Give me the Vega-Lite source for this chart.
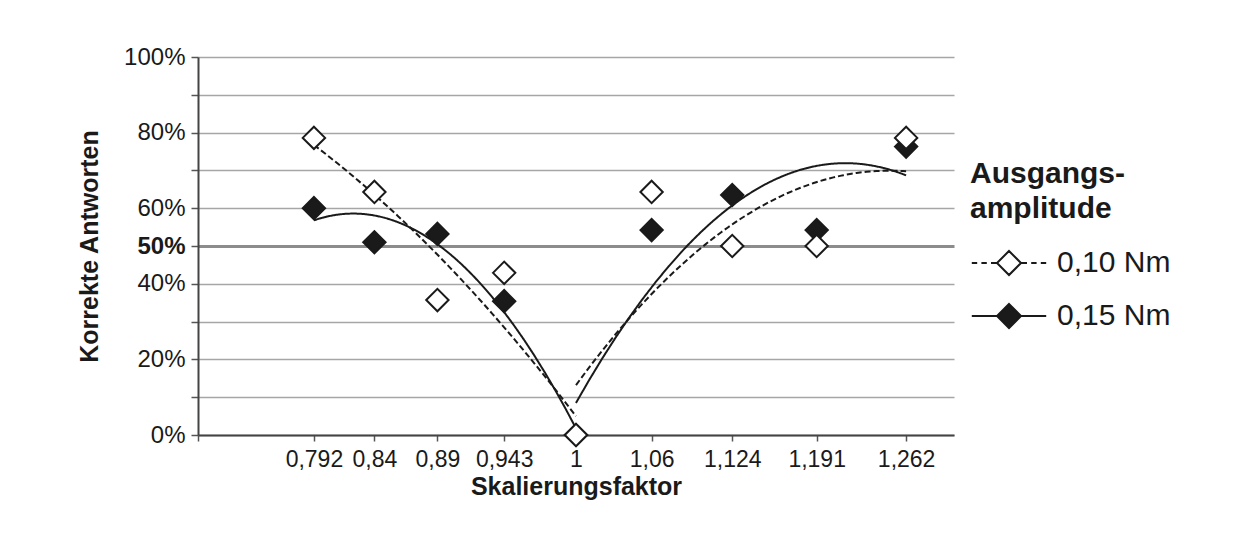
{
  "$schema": "https://vega.github.io/schema/vega-lite/v6.json",
  "width": 756,
  "height": 378,
  "autosize": {"type": "none"},
  "padding": {"left": 198, "top": 57, "right": 301, "bottom": 99},
  "background": "white",
  "config": {
    "view": {"stroke": null},
    "font": "Liberation Sans",
    "axis": {"labelColor": "#1a1a1a", "titleColor": "#1a1a1a"}
  },
  "data": {
    "values": [
      {"x": 0.792, "y": 0.600, "series": "0,15 Nm"},
      {"x": 0.84, "y": 0.510, "series": "0,15 Nm"},
      {"x": 0.89, "y": 0.532, "series": "0,15 Nm"},
      {"x": 0.943, "y": 0.354, "series": "0,15 Nm"},
      {"x": 1, "y": 0.0, "series": "0,15 Nm"},
      {"x": 1.06, "y": 0.542, "series": "0,15 Nm"},
      {"x": 1.124, "y": 0.635, "series": "0,15 Nm"},
      {"x": 1.191, "y": 0.542, "series": "0,15 Nm"},
      {"x": 1.262, "y": 0.763, "series": "0,15 Nm"},
      {"x": 0.792, "y": 0.786, "series": "0,10 Nm"},
      {"x": 0.84, "y": 0.643, "series": "0,10 Nm"},
      {"x": 0.89, "y": 0.357, "series": "0,10 Nm"},
      {"x": 0.943, "y": 0.429, "series": "0,10 Nm"},
      {"x": 1, "y": 0.0, "series": "0,10 Nm"},
      {"x": 1.06, "y": 0.643, "series": "0,10 Nm"},
      {"x": 1.124, "y": 0.5, "series": "0,10 Nm"},
      {"x": 1.191, "y": 0.5, "series": "0,10 Nm"},
      {"x": 1.262, "y": 0.786, "series": "0,10 Nm"}
    ]
  },
  "encoding": {
    "x": {
      "field": "x", "type": "quantitative",
      "scale": {"domain": [0.7, 1.3], "zero": false, "nice": false},
      "axis": {
        "values": [0.7, 0.792, 0.84, 0.89, 0.943, 1, 1.06, 1.124, 1.191, 1.262],
        "labelExpr": "datum.value < 0.75 ? '' : replace(toString(datum.value), '.', ',')",
        "grid": false,
        "domainColor": "#444444", "domainWidth": 2,
        "tickColor": "#555555", "tickWidth": 1.5, "tickSize": 6,
        "labelFontSize": 23, "labelPadding": 7,
        "title": "Skalierungsfaktor", "titleFontSize": 25, "titleFontWeight": "bold", "titlePadding": 3
      }
    },
    "y": {
      "field": "y", "type": "quantitative",
      "scale": {"domain": [0, 1], "nice": false},
      "axis": {
        "values": [0, 0.1, 0.2, 0.3, 0.4, 0.5, 0.6, 0.7, 0.8, 0.9, 1],
        "labelExpr": "indexof([0,20,40,50,60,80,100], round(datum.value*100)) >= 0 ? round(datum.value*100) + '%' : ''",
        "labelFontWeight": {"condition": {"test": "round(datum.value*100) == 50", "value": "bold"}, "value": "normal"},
        "gridColor": {"condition": {"test": "round(datum.value*100) == 50", "value": "#8c8c8c"}, "value": "#a6a6a6"},
        "gridWidth": {"condition": {"test": "round(datum.value*100) == 50", "value": 3}, "value": 1.5},
        "domainColor": "#444444", "domainWidth": 2,
        "tickColor": "#555555", "tickWidth": 1.5, "tickSize": 7,
        "labelFontSize": 24, "labelPadding": 6,
        "title": "Korrekte Antworten", "titleFontSize": 25, "titleFontWeight": "bold", "titlePadding": 21
      }
    }
  },
  "layer": [
    {
      "transform": [
        {"filter": "datum.x <= 1"},
        {"regression": "y", "on": "x", "groupby": ["series"], "method": "poly", "order": 2, "extent": [0.792, 1]}
      ],
      "mark": {"type": "line", "color": "#1a1a1a", "strokeWidth": 2},
      "encoding": {
        "detail": {"field": "series", "type": "nominal"},
        "strokeDash": {"condition": {"test": "datum.series === '0,10 Nm'", "value": [6, 3]}, "value": [1, 0]}
      }
    },
    {
      "transform": [
        {"filter": "datum.x >= 1"},
        {"regression": "y", "on": "x", "groupby": ["series"], "method": "poly", "order": 2, "extent": [1, 1.262]}
      ],
      "mark": {"type": "line", "color": "#1a1a1a", "strokeWidth": 2},
      "encoding": {
        "detail": {"field": "series", "type": "nominal"},
        "strokeDash": {"condition": {"test": "datum.series === '0,10 Nm'", "value": [6, 3]}, "value": [1, 0]}
      }
    },
    {
      "transform": [{"filter": "false"}],
      "mark": {"type": "point", "filled": true, "size": 500, "stroke": "#1a1a1a", "strokeWidth": 2, "opacity": 1},
      "encoding": {
        "shape": {
          "field": "series", "type": "nominal",
          "scale": {
            "domain": ["0,10 Nm", "0,15 Nm"],
            "range": [
              "M-3.1,0H-2.65M-2.3,0H-1.85M-1.5,0H-1.05M1.05,0H1.5M1.85,0H2.3M2.65,0H3.1M0,-1L1,0L0,1L-1,0Z",
              "M-3.1,0H-1M1,0H3.1M0,-1L1,0L0,1L-1,0Z"
            ]
          },
          "legend": {
            "orient": "none", "legendX": 772, "legendY": 102,
            "title": ["Ausgangs-", "amplitude"],
            "titleFontSize": 30, "titleFontWeight": "bold", "titleColor": "#1a1a1a", "titleLineHeight": 35, "titlePadding": 24,
            "labelFontSize": 30, "labelColor": "#1a1a1a", "labelOffset": 33,
            "symbolSize": 576, "symbolOffset": 24, "symbolStrokeWidth": 2, "symbolOpacity": 1,
            "rowPadding": 21, "padding": 0,
            "encode": {"symbols": {"stroke": {"value": "#1a1a1a"}, "strokeWidth": {"value": 2}}}
          }
        },
        "fill": {
          "field": "series", "type": "nominal",
          "scale": {"domain": ["0,10 Nm", "0,15 Nm"], "range": ["#ffffff", "#1a1a1a"]},
          "legend": {
            "orient": "none", "legendX": 772, "legendY": 102,
            "title": ["Ausgangs-", "amplitude"],
            "titleFontSize": 30, "titleFontWeight": "bold", "titleColor": "#1a1a1a", "titleLineHeight": 35, "titlePadding": 24,
            "labelFontSize": 30, "labelColor": "#1a1a1a", "labelOffset": 33,
            "symbolSize": 576, "symbolOffset": 24, "symbolStrokeWidth": 2, "symbolOpacity": 1,
            "rowPadding": 21, "padding": 0,
            "encode": {"symbols": {"stroke": {"value": "#1a1a1a"}, "strokeWidth": {"value": 2}}}
          }
        }
      }
    },
    {
      "mark": {"type": "point", "shape": "diamond", "filled": true, "size": 500, "stroke": "#1a1a1a", "strokeWidth": 2, "opacity": 1},
      "encoding": {
        "fill": {
          "field": "series", "type": "nominal",
          "scale": {"domain": ["0,10 Nm", "0,15 Nm"], "range": ["#ffffff", "#1a1a1a"]},
          "legend": {
            "orient": "none", "legendX": 772, "legendY": 102,
            "title": ["Ausgangs-", "amplitude"],
            "titleFontSize": 30, "titleFontWeight": "bold", "titleColor": "#1a1a1a", "titleLineHeight": 35, "titlePadding": 24,
            "labelFontSize": 30, "labelColor": "#1a1a1a", "labelOffset": 33,
            "symbolSize": 576, "symbolOffset": 24, "symbolStrokeWidth": 2, "symbolOpacity": 1,
            "rowPadding": 21, "padding": 0,
            "encode": {"symbols": {"stroke": {"value": "#1a1a1a"}, "strokeWidth": {"value": 2}}}
          }
        }
      }
    }
  ]
}
